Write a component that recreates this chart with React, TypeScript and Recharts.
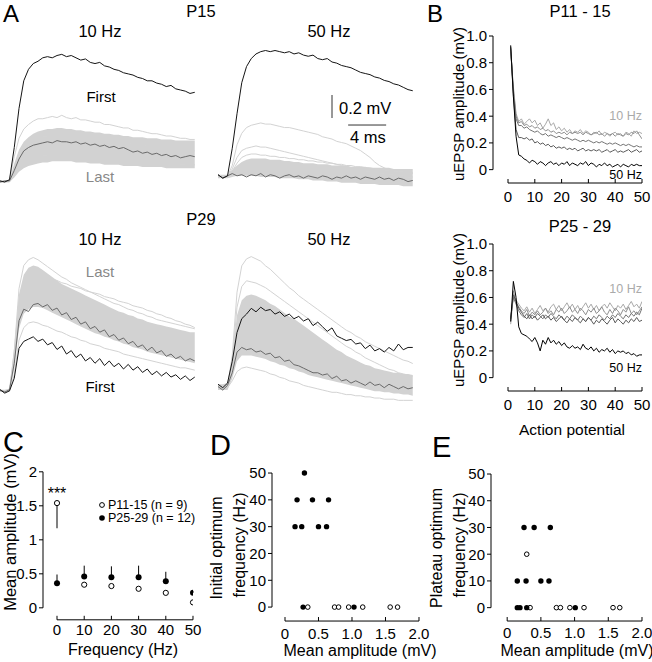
import React from "react";
import {
  ComposedChart,
  ScatterChart,
  Line,
  Area,
  Scatter,
  XAxis,
  YAxis,
  ReferenceLine,
  ErrorBar,
} from "recharts";

const FONT = "'Liberation Sans', Arial, Helvetica, sans-serif";
const PX_PER_MS = 9.5;
const PX_PER_MV = 115;

// ---------- A: single uEPSP traces, sampled every 0.5 ms ----------
const timeMs = [
  0, 0.5, 1, 1.5, 2, 2.5, 3, 3.5, 4, 4.5, 5, 5.5, 6, 6.5, 7, 7.5, 8, 8.5, 9, 9.5, 10, 10.5, 11, 11.5,
  12, 12.5, 13, 13.5, 14, 14.5, 15, 15.5, 16, 16.5, 17, 17.5, 18, 18.5, 19, 19.5, 20, 20.5,
];

// P15, 10 Hz
const p15Hz10First = [0.01, 0.0, 0.02, 0.3, 0.64, 0.88, 0.98, 1.03, 1.05, 1.08, 1.09, 1.08, 1.1, 1.11, 1.09, 1.1, 1.08, 1.06, 1.07, 1.04, 1.03, 1.04, 1.01, 1.0, 0.98, 0.97, 0.95, 0.94, 0.93, 0.91, 0.9, 0.88, 0.88, 0.86, 0.85, 0.83, 0.84, 0.81, 0.8, 0.79, 0.77, 0.78];
const p15Hz10Last = [0.0, 0.01, 0.01, 0.1, 0.2, 0.27, 0.3, 0.32, 0.33, 0.34, 0.35, 0.34, 0.36, 0.35, 0.35, 0.34, 0.35, 0.33, 0.34, 0.32, 0.33, 0.31, 0.32, 0.3, 0.31, 0.29, 0.3, 0.28, 0.26, 0.27, 0.25, 0.26, 0.24, 0.25, 0.23, 0.24, 0.22, 0.23, 0.21, 0.22, 0.23, 0.22];
const p15Hz10Lo = [0, 0, 0, 0.04, 0.09, 0.12, 0.14, 0.15, 0.16, 0.17, 0.17, 0.18, 0.18, 0.18, 0.18, 0.18, 0.17, 0.17, 0.17, 0.16, 0.16, 0.16, 0.15, 0.15, 0.15, 0.15, 0.14, 0.14, 0.14, 0.14, 0.13, 0.13, 0.13, 0.13, 0.13, 0.12, 0.12, 0.12, 0.12, 0.12, 0.12, 0.12];
const p15Hz10Hi = [0.01, 0.01, 0.02, 0.16, 0.28, 0.35, 0.39, 0.42, 0.44, 0.45, 0.46, 0.46, 0.47, 0.47, 0.46, 0.46, 0.45, 0.45, 0.44, 0.44, 0.43, 0.43, 0.42, 0.42, 0.41, 0.41, 0.4, 0.4, 0.39, 0.39, 0.39, 0.38, 0.38, 0.38, 0.37, 0.37, 0.37, 0.36, 0.36, 0.36, 0.36, 0.36];
const p15Hz10Grey1 = [0, 0, 0.02, 0.22, 0.38, 0.46, 0.5, 0.53, 0.55, 0.55, 0.56, 0.57, 0.56, 0.58, 0.56, 0.55, 0.56, 0.54, 0.54, 0.53, 0.52, 0.52, 0.5, 0.5, 0.49, 0.48, 0.47, 0.47, 0.45, 0.45, 0.44, 0.43, 0.42, 0.42, 0.41, 0.4, 0.4, 0.39, 0.38, 0.38, 0.37, 0.37];
const p15Hz10Grey2 = [0, 0, 0.01, 0.12, 0.24, 0.31, 0.35, 0.37, 0.39, 0.4, 0.4, 0.41, 0.4, 0.41, 0.4, 0.39, 0.4, 0.38, 0.39, 0.37, 0.38, 0.36, 0.37, 0.35, 0.36, 0.34, 0.35, 0.33, 0.34, 0.32, 0.33, 0.31, 0.32, 0.3, 0.31, 0.29, 0.3, 0.28, 0.29, 0.27, 0.28, 0.27];
const p15Hz10Grey3 = [0, 0, 0, 0.06, 0.13, 0.17, 0.19, 0.21, 0.22, 0.23, 0.23, 0.24, 0.23, 0.24, 0.23, 0.22, 0.23, 0.22, 0.21, 0.22, 0.21, 0.2, 0.21, 0.2, 0.19, 0.2, 0.19, 0.18, 0.19, 0.18, 0.17, 0.18, 0.17, 0.16, 0.17, 0.16, 0.15, 0.16, 0.15, 0.15, 0.14, 0.15];

// P15, 50 Hz
const p15Hz50First = [0.02, -0.01, 0.01, 0.25, 0.55, 0.82, 0.96, 1.03, 1.07, 1.09, 1.1, 1.09, 1.1, 1.09, 1.08, 1.09, 1.07, 1.08, 1.06, 1.05, 1.06, 1.03, 1.02, 1.03, 1.0, 0.99, 0.97, 0.96, 0.95, 0.93, 0.91, 0.9, 0.89, 0.87, 0.86, 0.84, 0.83, 0.81, 0.8, 0.78, 0.76, 0.75];
const p15Hz50Last = [0.02, -0.01, 0.01, 0.03, 0.01, 0.02, 0.0, 0.02, 0.01, 0.03, 0.0, 0.02, 0.01, -0.01, 0.01, 0.02, 0.0, 0.01, -0.01, 0.01, 0.0, -0.01, 0.01, 0.0, -0.02, 0.0, -0.01, 0.01, -0.01, 0.0, -0.02, 0.0, -0.01, -0.02, 0.0, -0.02, -0.01, -0.03, -0.01, -0.02, -0.04, -0.03];
const p15Hz50Lo = [-0.01, -0.01, -0.01, 0.0, 0.01, 0.01, 0.01, 0.01, 0.01, 0.0, 0.0, 0.0, 0.0, -0.01, -0.01, -0.01, -0.01, -0.02, -0.02, -0.02, -0.03, -0.03, -0.03, -0.04, -0.04, -0.04, -0.05, -0.05, -0.05, -0.05, -0.06, -0.06, -0.06, -0.06, -0.07, -0.07, -0.07, -0.07, -0.07, -0.08, -0.08, -0.08];
const p15Hz50Hi = [0.02, 0.02, 0.02, 0.06, 0.1, 0.13, 0.15, 0.16, 0.16, 0.16, 0.16, 0.15, 0.15, 0.15, 0.14, 0.14, 0.13, 0.13, 0.12, 0.12, 0.12, 0.11, 0.11, 0.11, 0.1, 0.1, 0.1, 0.1, 0.09, 0.09, 0.09, 0.09, 0.08, 0.08, 0.08, 0.08, 0.08, 0.07, 0.07, 0.07, 0.07, 0.07];
const p15Hz50Grey1 = [0, 0, 0.01, 0.1, 0.28, 0.38, 0.43, 0.45, 0.46, 0.47, 0.46, 0.46, 0.45, 0.44, 0.43, 0.43, 0.42, 0.41, 0.4, 0.39, 0.38, 0.37, 0.35, 0.34, 0.33, 0.31, 0.3, 0.29, 0.27, 0.25, 0.23, 0.2, 0.17, 0.13, 0.1, 0.08, 0.06, 0.05, 0.05, 0.04, 0.04, 0.03];
const p15Hz50Grey2 = [0, 0, 0.01, 0.07, 0.17, 0.23, 0.25, 0.26, 0.27, 0.26, 0.26, 0.25, 0.24, 0.23, 0.22, 0.21, 0.2, 0.19, 0.18, 0.17, 0.16, 0.15, 0.14, 0.13, 0.12, 0.11, 0.1, 0.09, 0.08, 0.07, 0.06, 0.05, 0.05, 0.04, 0.03, 0.03, 0.02, 0.02, 0.01, 0.01, 0.0, 0.0];
const p15Hz50Grey3 = [0, 0, 0.01, 0.05, 0.12, 0.17, 0.19, 0.2, 0.2, 0.19, 0.19, 0.18, 0.18, 0.17, 0.17, 0.16, 0.16, 0.15, 0.15, 0.14, 0.14, 0.13, 0.13, 0.12, 0.12, 0.11, 0.11, 0.1, 0.1, 0.09, 0.09, 0.08, 0.08, 0.07, 0.07, 0.06, 0.06, 0.05, 0.05, 0.05, 0.04, 0.04];

// P29, 10 Hz
const p29Hz10First = [0.02, -0.01, 0.01, 0.12, 0.38, 0.44, 0.46, 0.48, 0.44, 0.46, 0.41, 0.43, 0.37, 0.4, 0.33, 0.36, 0.3, 0.33, 0.27, 0.3, 0.25, 0.29, 0.23, 0.27, 0.22, 0.25, 0.2, 0.24, 0.19, 0.22, 0.17, 0.2, 0.15, 0.18, 0.14, 0.17, 0.13, 0.15, 0.11, 0.14, 0.1, 0.13];
const p29Hz10Last = [0.02, 0.0, 0.02, 0.25, 0.62, 0.72, 0.7, 0.76, 0.77, 0.74, 0.76, 0.71, 0.73, 0.67, 0.69, 0.63, 0.65, 0.59, 0.61, 0.55, 0.57, 0.52, 0.54, 0.48, 0.5, 0.45, 0.47, 0.42, 0.44, 0.39, 0.41, 0.36, 0.39, 0.34, 0.36, 0.31, 0.33, 0.29, 0.31, 0.27, 0.29, 0.27];
const p29Hz10Lo = [0, 0, 0, 0.2, 0.55, 0.68, 0.72, 0.74, 0.74, 0.73, 0.71, 0.69, 0.67, 0.65, 0.63, 0.61, 0.59, 0.57, 0.55, 0.53, 0.51, 0.5, 0.48, 0.47, 0.45, 0.44, 0.42, 0.41, 0.39, 0.38, 0.37, 0.35, 0.34, 0.33, 0.32, 0.31, 0.3, 0.29, 0.28, 0.27, 0.26, 0.25];
const p29Hz10Hi = [0.02, 0.02, 0.03, 0.4, 0.85, 1.02, 1.08, 1.1, 1.09, 1.06, 1.03, 1.0, 0.97, 0.94, 0.92, 0.9, 0.88, 0.86, 0.84, 0.82, 0.8, 0.78, 0.76, 0.74, 0.72, 0.7, 0.69, 0.67, 0.66, 0.64, 0.63, 0.61, 0.6, 0.59, 0.58, 0.57, 0.56, 0.55, 0.54, 0.53, 0.52, 0.52];
const p29Hz10Grey1 = [0.01, 0.0, 0.02, 0.35, 0.9, 1.1, 1.15, 1.17, 1.15, 1.12, 1.09, 1.06, 1.03, 1.0, 0.98, 0.95, 0.93, 0.91, 0.89, 0.87, 0.85, 0.83, 0.81, 0.79, 0.77, 0.76, 0.74, 0.72, 0.71, 0.69, 0.68, 0.66, 0.65, 0.63, 0.62, 0.61, 0.6, 0.59, 0.58, 0.57, 0.56, 0.55];
const p29Hz10Grey2 = [0.01, 0.0, 0.01, 0.15, 0.45, 0.56, 0.6, 0.61, 0.6, 0.58, 0.57, 0.55, 0.53, 0.52, 0.5, 0.48, 0.47, 0.45, 0.44, 0.42, 0.41, 0.4, 0.38, 0.37, 0.36, 0.35, 0.33, 0.32, 0.31, 0.3, 0.29, 0.28, 0.27, 0.26, 0.25, 0.24, 0.23, 0.22, 0.21, 0.21, 0.2, 0.19];
const p29Hz10Grey3 = [0.01, 0.0, 0.02, 0.3, 0.8, 0.96, 1.01, 1.03, 1.02, 1.01, 1.0, 0.98, 0.97, 0.95, 0.94, 0.92, 0.91, 0.9, 0.88, 0.87, 0.86, 0.85, 0.83, 0.82, 0.81, 0.79, 0.78, 0.77, 0.75, 0.74, 0.73, 0.71, 0.7, 0.68, 0.67, 0.65, 0.64, 0.62, 0.61, 0.59, 0.58, 0.56];

// P29, 50 Hz
const p29Hz50First = [0.05, 0.02, 0.06, 0.25, 0.5, 0.62, 0.66, 0.71, 0.68, 0.72, 0.69, 0.7, 0.66, 0.68, 0.64, 0.66, 0.62, 0.64, 0.6, 0.62, 0.56, 0.59, 0.55, 0.51, 0.54, 0.47, 0.45, 0.43, 0.44, 0.4, 0.41, 0.36, 0.39, 0.34, 0.36, 0.33, 0.37, 0.34, 0.4, 0.35, 0.37, 0.37];
const p29Hz50Last = [0.03, 0.0, 0.04, 0.15, 0.33, 0.37, 0.35, 0.36, 0.33, 0.34, 0.31, 0.32, 0.28, 0.29, 0.25, 0.26, 0.22, 0.21, 0.19, 0.17, 0.15, 0.15, 0.13, 0.14, 0.1, 0.12, 0.08, 0.09, 0.06, 0.08, 0.06, 0.04, 0.07, 0.04, 0.05, 0.02, 0.05, 0.03, 0.01, 0.03, 0.01, 0.02];
const p29Hz50Lo = [0.0, 0.0, 0.0, 0.1, 0.25, 0.3, 0.3, 0.3, 0.29, 0.28, 0.27, 0.25, 0.24, 0.22, 0.21, 0.19, 0.18, 0.16, 0.15, 0.13, 0.12, 0.11, 0.1, 0.09, 0.08, 0.07, 0.06, 0.05, 0.04, 0.03, 0.02, 0.01, 0.0, -0.01, -0.01, -0.02, -0.02, -0.03, -0.03, -0.04, -0.04, -0.05];
const p29Hz50Hi = [0.05, 0.05, 0.06, 0.3, 0.65, 0.78, 0.82, 0.83, 0.82, 0.8, 0.78, 0.75, 0.73, 0.7, 0.67, 0.64, 0.62, 0.59, 0.56, 0.53, 0.5, 0.47, 0.44, 0.41, 0.38, 0.35, 0.33, 0.3, 0.28, 0.26, 0.24, 0.22, 0.21, 0.19, 0.18, 0.17, 0.16, 0.15, 0.15, 0.14, 0.14, 0.13];
const p29Hz50Grey1 = [0.02, 0.01, 0.03, 0.3, 0.85, 1.08, 1.14, 1.16, 1.14, 1.12, 1.08, 1.05, 1.01, 0.97, 0.93, 0.89, 0.86, 0.82, 0.79, 0.76, 0.73, 0.7, 0.67, 0.64, 0.61, 0.58, 0.55, 0.52, 0.5, 0.47, 0.45, 0.42, 0.4, 0.38, 0.36, 0.34, 0.32, 0.3, 0.28, 0.26, 0.25, 0.23];
const p29Hz50Grey2 = [0.02, 0.01, 0.03, 0.25, 0.72, 0.9, 0.95, 0.94, 0.93, 0.91, 0.89, 0.86, 0.83, 0.8, 0.77, 0.74, 0.71, 0.68, 0.65, 0.62, 0.59, 0.56, 0.53, 0.5, 0.47, 0.44, 0.41, 0.38, 0.36, 0.33, 0.31, 0.28, 0.26, 0.24, 0.22, 0.2, 0.18, 0.17, 0.15, 0.14, 0.13, 0.12];
const p29Hz50Grey3 = [0.02, 0.0, 0.02, 0.08, 0.16, 0.19, 0.2, 0.19, 0.18, 0.17, 0.16, 0.14, 0.13, 0.11, 0.1, 0.08, 0.07, 0.06, 0.04, 0.03, 0.02, 0.01, 0.0, -0.01, -0.02, -0.02, -0.03, -0.04, -0.04, -0.05, -0.05, -0.06, -0.06, -0.07, -0.07, -0.08, -0.08, -0.08, -0.09, -0.09, -0.09, -0.09];

// ---------- B: uEPSP amplitude per action potential ----------
const apIndex = [
  1, 2, 3, 4, 5, 6, 7, 8, 9, 10, 11, 12, 13, 14, 15, 16, 17, 18, 19, 20, 21, 22, 23, 24, 25,
  26, 27, 28, 29, 30, 31, 32, 33, 34, 35, 36, 37, 38, 39, 40, 41, 42, 43, 44, 45, 46, 47, 48, 49, 50,
];
const trainRates = ["hz10", "hz20", "hz30", "hz40", "hz50"];
const trainColors = ["#a8a8a8", "#8e8e8e", "#747474", "#5a5a5a", "#000000"];

const youngHz10 = [0.88, 0.62, 0.42, 0.36, 0.38, 0.34, 0.36, 0.38, 0.35, 0.37, 0.33, 0.35, 0.31, 0.34, 0.38, 0.33, 0.35, 0.3, 0.32, 0.29, 0.31, 0.28, 0.3, 0.27, 0.29, 0.28, 0.3, 0.27, 0.29, 0.28, 0.26, 0.28, 0.27, 0.29, 0.26, 0.28, 0.27, 0.25, 0.27, 0.28, 0.26, 0.27, 0.25, 0.28, 0.27, 0.25, 0.29, 0.27, 0.28, 0.27];
const youngHz20 = [0.9, 0.6, 0.4, 0.35, 0.36, 0.33, 0.34, 0.32, 0.33, 0.31, 0.32, 0.3, 0.31, 0.29, 0.3, 0.28, 0.29, 0.27, 0.28, 0.27, 0.28, 0.26, 0.28, 0.27, 0.28, 0.27, 0.28, 0.26, 0.28, 0.27, 0.26, 0.27, 0.28, 0.26, 0.27, 0.25, 0.27, 0.26, 0.27, 0.25, 0.27, 0.26, 0.25, 0.27, 0.26, 0.28, 0.27, 0.29, 0.26, 0.23];
const youngHz30 = [0.91, 0.58, 0.38, 0.33, 0.33, 0.31, 0.32, 0.3, 0.29, 0.28, 0.29, 0.27, 0.26, 0.27, 0.25, 0.26, 0.25, 0.24, 0.25, 0.24, 0.23, 0.24, 0.23, 0.22, 0.23, 0.22, 0.21, 0.22, 0.21, 0.22, 0.21, 0.2, 0.21, 0.2, 0.21, 0.2, 0.19, 0.2, 0.19, 0.2, 0.19, 0.18, 0.19, 0.18, 0.19, 0.18, 0.17, 0.18, 0.17, 0.17];
const youngHz40 = [0.92, 0.55, 0.3, 0.24, 0.24, 0.23, 0.24, 0.22, 0.23, 0.2, 0.21, 0.19, 0.2, 0.18, 0.19, 0.17, 0.18, 0.16, 0.17, 0.16, 0.17, 0.15, 0.16, 0.15, 0.16, 0.14, 0.15, 0.16, 0.14, 0.15, 0.14, 0.15, 0.14, 0.15, 0.13, 0.14, 0.15, 0.13, 0.14, 0.15, 0.13, 0.14, 0.13, 0.14, 0.15, 0.13, 0.14, 0.15, 0.13, 0.14];
const youngHz50 = [0.93, 0.55, 0.25, 0.11, 0.1, 0.08, 0.07, 0.05, 0.07, 0.06, 0.04, 0.06, 0.05, 0.03, 0.05, 0.06, 0.04, 0.05, 0.03, 0.05, 0.04, 0.06, 0.03, 0.05, 0.04, 0.03, 0.05, 0.04, 0.06, 0.03, 0.05, 0.04, 0.02, 0.04, 0.03, 0.05, 0.03, 0.04, 0.02, 0.03, 0.04, 0.02, 0.04, 0.03, 0.02, 0.04, 0.03, 0.04, 0.03, 0.03];

const matureHz10 = [0.4, 0.62, 0.58, 0.55, 0.52, 0.5, 0.53, 0.49, 0.52, 0.48, 0.51, 0.54, 0.5, 0.52, 0.49, 0.53, 0.55, 0.51, 0.54, 0.5, 0.53, 0.56, 0.52, 0.55, 0.51, 0.54, 0.5, 0.53, 0.56, 0.52, 0.55, 0.51, 0.54, 0.5, 0.53, 0.55, 0.52, 0.56, 0.53, 0.5, 0.54, 0.52, 0.55, 0.51, 0.54, 0.57, 0.53, 0.55, 0.52, 0.57];
const matureHz20 = [0.42, 0.65, 0.56, 0.53, 0.5, 0.48, 0.51, 0.46, 0.49, 0.47, 0.5, 0.47, 0.49, 0.52, 0.48, 0.5, 0.47, 0.51, 0.49, 0.52, 0.48, 0.5, 0.53, 0.49, 0.51, 0.48, 0.52, 0.5, 0.47, 0.51, 0.49, 0.52, 0.48, 0.5, 0.53, 0.49, 0.47, 0.51, 0.48, 0.52, 0.5, 0.47, 0.51, 0.49, 0.53, 0.48, 0.5, 0.47, 0.5, 0.53];
const matureHz30 = [0.45, 0.6, 0.55, 0.5, 0.47, 0.45, 0.48, 0.44, 0.47, 0.45, 0.48, 0.46, 0.44, 0.47, 0.45, 0.48, 0.46, 0.44, 0.47, 0.45, 0.43, 0.46, 0.44, 0.47, 0.45, 0.43, 0.46, 0.44, 0.42, 0.45, 0.43, 0.46, 0.44, 0.47, 0.45, 0.43, 0.46, 0.44, 0.47, 0.45, 0.48, 0.46, 0.44, 0.47, 0.45, 0.48, 0.46, 0.49, 0.47, 0.52];
const matureHz40 = [0.44, 0.62, 0.57, 0.52, 0.49, 0.46, 0.44, 0.47, 0.44, 0.46, 0.43, 0.45, 0.47, 0.44, 0.46, 0.43, 0.45, 0.42, 0.44, 0.46, 0.43, 0.41, 0.44, 0.42, 0.45, 0.43, 0.41, 0.44, 0.42, 0.45, 0.43, 0.4, 0.43, 0.41, 0.44, 0.42, 0.4, 0.43, 0.45, 0.41, 0.44, 0.42, 0.4, 0.43, 0.41, 0.44, 0.42, 0.45, 0.42, 0.43];
const matureHz50 = [0.42, 0.72, 0.6, 0.38, 0.33, 0.32, 0.31, 0.29, 0.27, 0.3, 0.26, 0.2, 0.28, 0.25, 0.3, 0.26, 0.28, 0.25, 0.27, 0.24, 0.26, 0.23, 0.22, 0.24, 0.22, 0.23, 0.21, 0.25, 0.22, 0.21, 0.23, 0.2, 0.22, 0.19, 0.21, 0.2, 0.22, 0.19, 0.21, 0.18, 0.2, 0.19, 0.2, 0.18, 0.19, 0.17, 0.18, 0.16, 0.17, 0.17];

const apTicks = [0, 10, 20, 30, 40, 50];
const uepspTicks = [0, 0.2, 0.4, 0.6, 0.8, 1.0];

// ---------- C: mean amplitude vs frequency ----------
const freqHz = [0, 10, 20, 30, 40, 50];
const youngMean = [1.54, 0.34, 0.32, 0.28, 0.22, 0.08];
const youngErrDown = [0.37, 0, 0, 0, 0, 0];
const matureMean = [0.36, 0.46, 0.45, 0.45, 0.39, 0.22];
const matureErrUp = [0.13, 0.16, 0.16, 0.17, 0.14, 0.03];
const meanTicks = [0, 0.5, 1, 1.5, 2];

// ---------- D / E: optimum frequency vs mean amplitude ----------
const ampTicks = [0, 0.5, 1.0, 1.5, 2.0];
const optTicks = [0, 10, 20, 30, 40, 50];
const initMatureAmp = [0.29, 0.18, 0.41, 0.65, 0.15, 0.25, 0.5, 0.62, 0.27, 1.03];
const initMatureFreq = [50, 40, 40, 40, 30, 30, 30, 30, 0, 0];
const initYoungAmp = [0.34, 0.74, 0.8, 0.95, 1.16, 1.57, 1.68];
const initYoungFreq = [0, 0, 0, 0, 0, 0, 0];
const plateauMatureAmp = [0.15, 0.19, 0.29, 1.01, 0.15, 0.28, 0.5, 0.62, 0.25, 0.4, 0.64];
const plateauMatureFreq = [0, 0, 0, 0, 10, 10, 10, 10, 30, 30, 30];
const plateauYoungAmp = [0.34, 0.73, 0.79, 0.93, 1.14, 1.57, 1.67, 0.29];
const plateauYoungFreq = [0, 0, 0, 0, 0, 0, 0, 20];

const tickStyle = { fill: "#000", fontSize: 15, fontFamily: FONT };

type TraceSet = { first: number[]; last: number[]; lo: number[]; hi: number[]; greys: number[][] };

const p15Hz10: TraceSet = { first: p15Hz10First, last: p15Hz10Last, lo: p15Hz10Lo, hi: p15Hz10Hi, greys: [p15Hz10Grey1, p15Hz10Grey2, p15Hz10Grey3] };
const p15Hz50: TraceSet = { first: p15Hz50First, last: p15Hz50Last, lo: p15Hz50Lo, hi: p15Hz50Hi, greys: [p15Hz50Grey1, p15Hz50Grey2, p15Hz50Grey3] };
const p29Hz10: TraceSet = { first: p29Hz10First, last: p29Hz10Last, lo: p29Hz10Lo, hi: p29Hz10Hi, greys: [p29Hz10Grey1, p29Hz10Grey2, p29Hz10Grey3] };
const p29Hz50: TraceSet = { first: p29Hz50First, last: p29Hz50Last, lo: p29Hz50Lo, hi: p29Hz50Hi, greys: [p29Hz50Grey1, p29Hz50Grey2, p29Hz50Grey3] };

function traceRows(s: TraceSet) {
  return timeMs.map((t, i) => {
    const row: Record<string, any> = { t, first: s.first[i], last: s.last[i], band: [s.lo[i], s.hi[i]] };
    s.greys.forEach((g, k) => {
      row["g" + k] = g[i];
    });
    return row;
  });
}

function TracePanel({ left, top, width, height, baseline, set, children }: any) {
  const yMax = (baseline - top) / PX_PER_MV;
  const yMin = (baseline - top - height) / PX_PER_MV;
  return (
    <div style={{ position: "absolute", left, top }}>
      <ComposedChart width={width} height={height} data={traceRows(set)} margin={{ top: 0, right: 0, bottom: 0, left: 0 }}>
        <XAxis type="number" dataKey="t" domain={[0, width / PX_PER_MS]} hide allowDataOverflow />
        <YAxis type="number" domain={[yMin, yMax]} hide allowDataOverflow />
        <Area dataKey="band" stroke="none" fill="#d2d2d2" fillOpacity={1} isAnimationActive={false} />
        {set.greys.map((_: number[], k: number) => (
          <Line key={k} dataKey={"g" + k} stroke="#d3d3d3" strokeWidth={1} dot={false} isAnimationActive={false} />
        ))}
        <Line dataKey="last" stroke="#6a6a6a" strokeWidth={1} dot={false} isAnimationActive={false} />
        <Line dataKey="first" stroke="#151515" strokeWidth={1} dot={false} isAnimationActive={false} />
        {children}
      </ComposedChart>
    </div>
  );
}

// detached axis lines, as in the original figure
function axisLines(xLo: number, yLo: number, xTicks: number[], yTicks: number[]) {
  return [
    <ReferenceLine key="ya" segment={[{ x: xLo, y: yTicks[0] }, { x: xLo, y: yTicks[yTicks.length - 1] }]} stroke="#000" strokeWidth={1} ifOverflow="visible" />,
    <ReferenceLine key="xa" segment={[{ x: xTicks[0], y: yLo }, { x: xTicks[xTicks.length - 1], y: yLo }]} stroke="#000" strokeWidth={1} ifOverflow="visible" />,
  ];
}

const fmtOne = (v: number) => (v === 0 ? "0" : v.toFixed(1));

function TrainPanel({ top, bottom, series }: { top: number; bottom: number; series: number[][] }) {
  const left = 493, right = 642, yW = 34, padT = 14, padR = 10, xH = 30;
  const xLo = -5.6, yLo = -0.1;
  const rows = apIndex.map((ap, i) => {
    const r: Record<string, number> = { ap };
    trainRates.forEach((k, j) => (r[k] = series[j][i]));
    return r;
  });
  return (
    <div style={{ position: "absolute", left: left - yW, top: top - padT }}>
      <ComposedChart width={right - left + yW + padR} height={bottom - top + padT + xH} data={rows} margin={{ top: padT, right: padR, bottom: 0, left: 0 }}>
        <XAxis type="number" dataKey="ap" domain={[xLo, 50]} ticks={apTicks} interval={0} allowDataOverflow axisLine={false} tickLine={{ stroke: "#000" }} tickSize={-4} tickMargin={12} height={xH} tick={tickStyle} />
        <YAxis type="number" domain={[yLo, 1]} ticks={uepspTicks} interval={0} allowDataOverflow axisLine={false} tickLine={{ stroke: "#000" }} tickSize={4} tickMargin={2} width={yW} tick={tickStyle} tickFormatter={fmtOne} />
        {axisLines(xLo, yLo, apTicks, uepspTicks)}
        {trainRates.map((k, j) => (
          <Line key={k} dataKey={k} stroke={trainColors[j]} strokeWidth={1} dot={false} isAnimationActive={false} />
        ))}
      </ComposedChart>
    </div>
  );
}

const openDot = (r: number) => (p: any) => <circle cx={p.cx} cy={p.cy} r={r} fill="#fff" stroke="#000" strokeWidth={1} />;
const filledDot = (r: number) => (p: any) => <circle cx={p.cx} cy={p.cy} r={r} fill="#000" />;

// "top" is where the last y tick sits; headroom keeps markers on that tick from being clipped
function ScatterPanel({ left, right, top, bottom, yW, padR, xDomain, yDomain, headroom = 0, xTicks, yTicks, xFmt, yFmt, tickMargin, children }: any) {
  const xH = 30;
  const pxPerY = (bottom - top) / (yTicks[yTicks.length - 1] - yDomain[0]);
  const plotTop = top - headroom * pxPerY;
  const padT = 8;
  const yMax = yTicks[yTicks.length - 1] + headroom;
  return (
    <div style={{ position: "absolute", left: left - yW, top: plotTop - padT }}>
      <ScatterChart width={right - left + yW + padR} height={bottom - plotTop + padT + xH} margin={{ top: padT, right: padR, bottom: 0, left: 0 }}>
        <XAxis type="number" dataKey="x" domain={xDomain} ticks={xTicks} interval={0} allowDataOverflow axisLine={false} tickLine={{ stroke: "#000" }} tickSize={-4} tickMargin={tickMargin} height={xH} tick={tickStyle} tickFormatter={xFmt} />
        <YAxis type="number" dataKey="y" domain={[yDomain[0], yMax]} ticks={yTicks} interval={0} allowDataOverflow axisLine={false} tickLine={{ stroke: "#000" }} tickSize={4} tickMargin={2} width={yW} tick={tickStyle} tickFormatter={yFmt} />
        {axisLines(xDomain[0], yDomain[0], xTicks, yTicks)}
        {children}
      </ScatterChart>
    </div>
  );
}

const pairs = (xs: number[], ys: number[]) => xs.map((x, i) => ({ x, y: ys[i] }));

function Txt({ x, y, size = 15, anchor = "middle", fill = "#000", children }: any) {
  return (
    <text x={x} y={y} fontSize={size} fontWeight={400} textAnchor={anchor} fill={fill}>
      {children}
    </text>
  );
}

function VTxt({ x, y, size = 15, children }: any) {
  return (
    <text transform={`translate(${x},${y}) rotate(-90)`} fontSize={size} fontWeight={400} textAnchor="middle" dominantBaseline="central" fill="#000">
      {children}
    </text>
  );
}

export default function App() {
  const youngRows = freqHz.map((x, i) => ({ x, y: youngMean[i], err: [youngErrDown[i], 0] }));
  const matureRows = freqHz.map((x, i) => ({ x, y: matureMean[i], err: [0, matureErrUp[i]] }));

  return (
    <div style={{ position: "absolute", left: 0, top: 0, width: 652, height: 662, background: "#fff", fontFamily: FONT, overflow: "hidden" }}>
      {/* A */}
      <TracePanel left={0} top={40} width={196} height={155} baseline={182} set={p15Hz10} />
      <TracePanel left={218} top={40} width={198} height={155} baseline={177} set={p15Hz50}>
        <ReferenceLine segment={[{ x: 12.0, y: 0.513 }, { x: 12.0, y: 0.713 }]} stroke="#333" strokeWidth={1} ifOverflow="visible" />
        <ReferenceLine segment={[{ x: 13.7, y: 0.452 }, { x: 17.7, y: 0.452 }]} stroke="#333" strokeWidth={1} ifOverflow="visible" />
      </TracePanel>
      <TracePanel left={0} top={245} width={196} height={160} baseline={392} set={p29Hz10} />
      <TracePanel left={218} top={245} width={198} height={165} baseline={390} set={p29Hz50} />

      {/* B */}
      <TrainPanel top={36} bottom={183} series={[youngHz10, youngHz20, youngHz30, youngHz40, youngHz50]} />
      <TrainPanel top={244} bottom={391} series={[matureHz10, matureHz20, matureHz30, matureHz40, matureHz50]} />

      {/* C */}
      <ScatterPanel left={43} right={193} top={472} bottom={620} yW={43} padR={12} xDomain={[-5.15, 50]} yDomain={[-0.176, 2]} headroom={0.1} xTicks={freqHz} yTicks={meanTicks} tickMargin={9}>
        <Scatter data={youngRows} shape={openDot(2.6)} isAnimationActive={false}>
          <ErrorBar dataKey="err" direction="y" width={0} stroke="#000" strokeWidth={1} />
        </Scatter>
        <Scatter data={matureRows} shape={filledDot(3)} isAnimationActive={false}>
          <ErrorBar dataKey="err" direction="y" width={0} stroke="#000" strokeWidth={1} />
        </Scatter>
      </ScatterPanel>

      {/* D */}
      <ScatterPanel left={272} right={419} top={473} bottom={621} yW={26} padR={14} xDomain={[-0.194, 2]} yDomain={[-5.2, 50]} headroom={3} xTicks={ampTicks} yTicks={optTicks} xFmt={fmtOne} tickMargin={11}>
        <Scatter data={pairs(initYoungAmp, initYoungFreq)} shape={openDot(2.3)} isAnimationActive={false} />
        <Scatter data={pairs(initMatureAmp, initMatureFreq)} shape={filledDot(2.7)} isAnimationActive={false} />
      </ScatterPanel>

      {/* E */}
      <ScatterPanel left={491} right={642} top={474} bottom={621} yW={26} padR={10} xDomain={[-0.24, 2]} yDomain={[-5, 50]} headroom={3} xTicks={ampTicks} yTicks={optTicks} xFmt={fmtOne} tickMargin={10}>
        <Scatter data={pairs(plateauYoungAmp, plateauYoungFreq)} shape={openDot(2.3)} isAnimationActive={false} />
        <Scatter data={pairs(plateauMatureAmp, plateauMatureFreq)} shape={filledDot(2.7)} isAnimationActive={false} />
      </ScatterPanel>

      {/* labels */}
      <svg width={652} height={662} style={{ position: "absolute", left: 0, top: 0, pointerEvents: "none", fontFamily: FONT }}>
        <Txt x={3} y={22} size={24} anchor="start">A</Txt>
        <Txt x={201} y={17} size={16.5}>P15</Txt>
        <Txt x={100} y={37} size={16.5}>10 Hz</Txt>
        <Txt x={329} y={37} size={16.5}>50 Hz</Txt>
        <Txt x={101} y={102} size={15}>First</Txt>
        <Txt x={100} y={182} size={15} fill="#888">Last</Txt>
        <Txt x={339} y={114} size={16.5} anchor="start">0.2 mV</Txt>
        <Txt x={368} y={143} size={16.5}>4 ms</Txt>
        <Txt x={201} y={225} size={16.5}>P29</Txt>
        <Txt x={100} y={245} size={16.5}>10 Hz</Txt>
        <Txt x={329} y={245} size={16.5}>50 Hz</Txt>
        <Txt x={100} y={277} size={15} fill="#888">Last</Txt>
        <Txt x={100} y={392} size={15}>First</Txt>

        <Txt x={427} y={22} size={24} anchor="start">B</Txt>
        <Txt x={580} y={17} size={16.5}>P11 - 15</Txt>
        <Txt x={642} y={120} size={12.5} anchor="end" fill="#aaa">10 Hz</Txt>
        <Txt x={642} y={179} size={12.5} anchor="end">50 Hz</Txt>
        <Txt x={580} y={232} size={16.5}>P25 - 29</Txt>
        <Txt x={642} y={293} size={12.5} anchor="end" fill="#aaa">10 Hz</Txt>
        <Txt x={642} y={372} size={12.5} anchor="end">50 Hz</Txt>
        <VTxt x={458} y={104} size={15}>uEPSP amplitude (mV)</VTxt>
        <VTxt x={458} y={310} size={15}>uEPSP amplitude (mV)</VTxt>
        <Txt x={572} y={435} size={15.5}>Action potential</Txt>

        <Txt x={3} y={452} size={29} anchor="start">C</Txt>
        <Txt x={57} y={499} size={16}>***</Txt>
        <circle cx={102} cy={505} r={2.4} fill="#fff" stroke="#000" strokeWidth={1} />
        <Txt x={108} y={509} size={12.5} anchor="start">P11-15 (n = 9)</Txt>
        <circle cx={102} cy={518} r={2.8} fill="#000" />
        <Txt x={108} y={522} size={12.5} anchor="start">P25-29 (n = 12)</Txt>
        <VTxt x={10} y={532} size={16.5}>Mean amplitude (mV)</VTxt>
        <Txt x={123} y={655} size={16}>Frequency (Hz)</Txt>

        <Txt x={210} y={455} size={29} anchor="start">D</Txt>
        <VTxt x={216} y={548} size={16}>Initial optimum</VTxt>
        <VTxt x={239} y={545} size={16}>frequency (Hz)</VTxt>
        <Txt x={360} y={656} size={16}>Mean amplitude (mV)</Txt>

        <Txt x={432} y={457} size={29} anchor="start">E</Txt>
        <VTxt x={436} y={548} size={16}>Plateau optimum</VTxt>
        <VTxt x={459} y={545} size={16}>frequency (Hz)</VTxt>
        <Txt x={577} y={656} size={16}>Mean amplitude (mV)</Txt>
      </svg>
    </div>
  );
}
